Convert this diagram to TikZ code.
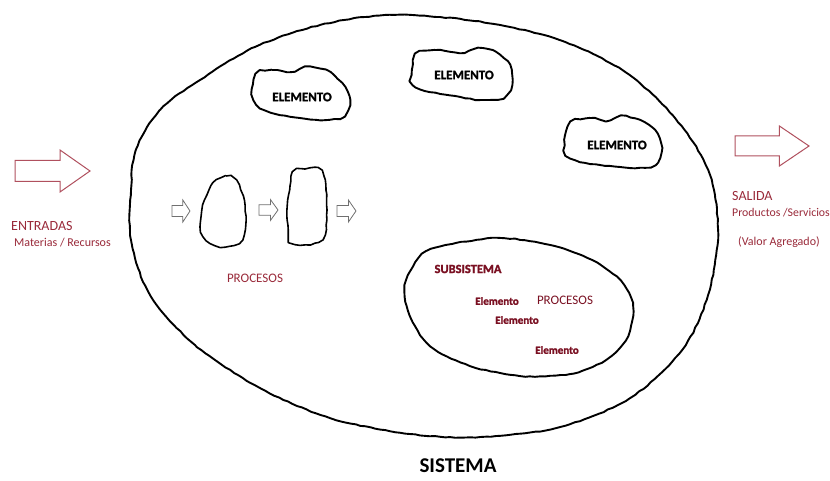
\documentclass[tikz,border=0pt]{standalone}
\usepackage{fontspec}
\setmainfont{Carlito}
\newfontfamily\heavyfont{Carlito}[BoldFeatures={FakeBold=1.6}]
\usetikzlibrary{decorations.pathmorphing}
\begin{document}
\begin{tikzpicture}[x=1pt,y=-1pt,
  blob/.style={draw=black,line width=1.9pt,line join=round,
    decoration={random steps,segment length=5pt,amplitude=0.45pt},decorate},
  redtext/.style={text=textred,inner sep=0pt},
  elemtext/.style={inner sep=0pt,font=\heavyfont\bfseries\fontsize{13}{14}\selectfont},
  subtext/.style={inner sep=0pt,text=maroon,font=\heavyfont\bfseries\fontsize{11}{12}\selectfont},
  harrow/.pic={\draw[pic actions] (0,-0.25) -- (0.6,-0.25) -- (0.6,-0.5) -- (1,0) -- (0.6,0.5) -- (0.6,0.25) -- (0,0.25) -- cycle;}
]
\definecolor{textred}{HTML}{9A2A3A}
\definecolor{maroon}{HTML}{7A1022}
\definecolor{arrowred}{HTML}{B0505E}
\definecolor{arrowgray}{HTML}{707070}
\pgfmathsetseed{7}
\useasboundingbox (0,0) rectangle (830,481);
\fill[white] (0,0) rectangle (830,481);

% system boundary
\draw[blob] plot[smooth cycle,tension=0.55] coordinates {
  (136,150) (160,110) (200,80) (255,47) (320,25) (385,15) (440,17) (500,25)
  (565,42) (625,72) (675,118) (708,170) (718,230) (708,295) (682,350)
  (630,398) (560,427) (480,437) (410,434) (330,418) (260,388) (195,345)
  (150,295) (131,240) (131,190)};

% elements
\draw[blob] plot[smooth cycle,tension=0.45] coordinates {
  (256,74) (272,70) (290,72) (305,67) (326,70) (342,83) (350,100) (344,116)
  (326,120) (300,118) (280,115) (260,108) (252,94)};
\node[elemtext] (e1) at (302,97) {ELEMENTO};
\draw[blob] plot[smooth cycle,tension=0.45] coordinates {
  (416,54) (435,50) (460,53) (478,48) (496,52) (510,65) (512,85) (503,98)
  (480,100) (455,96) (430,92) (413,85) (412,70)};
\node[elemtext] (e2) at (464,75) {ELEMENTO};
\draw[blob] plot[smooth cycle,tension=0.45] coordinates {
  (571,122) (590,118) (606,121) (621,116) (640,120) (655,130) (662,148)
  (655,165) (630,168) (600,165) (580,162) (566,155) (565,136)};
\node[elemtext] (e3) at (617,145) {ELEMENTO};

% processes
\draw[blob,line width=1.6pt] plot[smooth cycle,tension=0.5] coordinates {
  (213,183) (226,176) (236,181) (243,196) (246,220) (242,240) (225,247)
  (210,243) (201,232) (202,210) (207,195)};
\draw[blob,line width=1.6pt] plot[smooth cycle,tension=0.5] coordinates {
  (293,172) (305,169) (318,168) (325,180) (327,210) (325,235) (315,243)
  (300,245) (290,240) (287,210) (290,186)};
\pic[draw=arrowgray,line width=0.8pt,xscale=18,yscale=22] at (172,211) {harrow};
\pic[draw=arrowgray,line width=0.8pt,xscale=19,yscale=21] at (259,210) {harrow};
\pic[draw=arrowgray,line width=0.8pt,xscale=19,yscale=22] at (337,211) {harrow};
\node[redtext,font=\fontsize{13}{14}\selectfont] (proc) at (255,278) {PROCESOS};

% subsystem
\draw[blob] plot[smooth cycle,tension=0.5] coordinates {
  (422,254) (452,244) (500,238) (550,245) (592,260) (621,281) (633,306)
  (628,336) (606,360) (570,374) (520,376) (470,366) (430,346) (410,316) (405,285)};
\node[subtext,font=\heavyfont\bfseries\fontsize{12.5}{13}\selectfont] (sub) at (468,269) {SUBSISTEMA};
\node[subtext] (se1) at (497,301) {Elemento};
\node[redtext,text=maroon,font=\fontsize{13}{14}\selectfont] (sp) at (565,300) {PROCESOS};
\node[subtext] (se2) at (517,320) {Elemento};
\node[subtext] (se3) at (557,350) {Elemento};

% inputs
\pic[draw=arrowred,line width=1pt,xscale=75,yscale=42] at (15,171) {harrow};
\node[redtext,anchor=base west,font=\fontsize{14}{15}\selectfont] (in1) at (11,231) {ENTRADAS};
\node[redtext,anchor=base west,font=\fontsize{12}{13}\selectfont] (in2) at (14,247) {Materias / Recursos};

% outputs
\pic[draw=arrowred,line width=1pt,xscale=74,yscale=40] at (735,146) {harrow};
\node[redtext,anchor=base west,font=\fontsize{14}{15}\selectfont] (out1) at (732,201) {SALIDA};
\node[redtext,anchor=base west,font=\fontsize{11.8}{13}\selectfont] (out2) at (732,217) {Productos /Servicios};
\node[redtext,anchor=base west,font=\fontsize{12}{13}\selectfont] (out3) at (738,245) {(Valor Agregado)};

\node[inner sep=0pt,font=\bfseries\fontsize{21}{24}\selectfont] (sys) at (458,466) {SISTEMA};
\end{tikzpicture}
\end{document}
